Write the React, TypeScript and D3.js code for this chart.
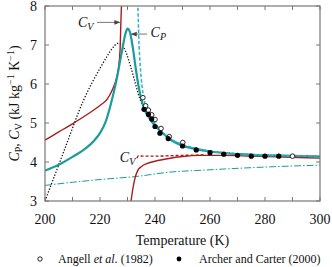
import React from "react";
import * as d3 from "d3";

// ---- data (temperature K, heat capacity kJ/kg/K) ----
const cpModel: [number, number][] = [
  [200, 3.78], [205, 3.93], [210, 4.13], [215, 4.36], [218, 4.56], [220, 4.74],
  [222, 5.02], [224, 5.5], [226, 6.1], [228, 6.85], [229.3, 7.3], [230, 7.42],
  [230.8, 7.35], [232, 6.9], [233, 6.4], [234, 5.95], [235, 5.62], [236, 5.38],
  [238, 5.12], [240, 4.93], [242, 4.8], [245, 4.6], [250, 4.42], [255, 4.33],
  [260, 4.27], [265, 4.23], [270, 4.2], [280, 4.17], [290, 4.16], [300, 4.14],
];
const cvLeft: [number, number][] = [
  [200, 4.56], [205, 4.77], [210, 4.98], [216, 5.25], [220, 5.45], [222.5, 5.6],
  [224.5, 5.85], [225.8, 6.1], [226.7, 6.4], [227.3, 6.87], [227.6, 7.6], [227.9, 8.2],
];
const cvRight: [number, number][] = [
  [231.1, 2.9], [231.8, 3.25], [232.7, 3.58], [233.7, 3.78], [235, 3.88], [237, 3.96],
  [240, 4.02], [245, 4.09], [250, 4.14], [256, 4.17], [265, 4.17], [275, 4.15],
  [290, 4.12], [300, 4.1],
];
const cvDashed: [number, number][] = [
  [233.4, 4.1], [234, 4.16], [236, 4.15], [240, 4.15], [245, 4.16], [250, 4.17], [258, 4.18],
];
const cpDashed: [number, number][] = [
  [233.75, 8.1], [234.1, 7.2], [234.6, 6.5], [235.2, 6.0], [236, 5.62], [237.5, 5.3],
  [240, 5.0], [245, 4.63], [250, 4.45], [255, 4.35], [260, 4.28], [270, 4.21],
  [280, 4.18], [290, 4.16], [300, 4.15],
];
const dotted: [number, number][] = [
  [200, 3.0], [207, 4.3], [214, 5.58], [217, 6.02], [220, 6.4], [223, 6.76],
  [225, 6.96], [226.3, 7.04], [227.6, 7.02], [229.1, 6.87], [231.5, 6.36], [234.5, 5.62],
  [237, 5.25], [240, 4.97], [245, 4.62], [250, 4.44], [255, 4.34], [260, 4.28],
  [270, 4.21], [280, 4.18], [290, 4.16], [300, 4.15],
];
const dashDot: [number, number][] = [
  [200, 3.4], [210, 3.48], [220, 3.55], [234.5, 3.64], [244, 3.73], [260, 3.8],
  [280, 3.87], [300, 3.92],
];

const angellT = [235.6, 236.6, 237.6, 238.8, 240, 242.2, 245.2, 250.1, 290];
const angellC = [5.65, 5.44, 5.33, 5.21, 5.09, 4.86, 4.65, 4.5, 4.15];
const archerT = [236, 237.6, 238.8, 240, 241.8, 244.8, 250, 255, 260, 265, 270, 275, 280, 285];
const archerC = [5.35, 5.22, 5.1, 4.91, 4.74, 4.6, 4.41, 4.31, 4.24, 4.2, 4.17, 4.15, 4.15, 4.15];

const xMajor = [200, 220, 240, 260, 280, 300];
const xMinor = [200, 210, 220, 230, 240, 250, 260, 270, 280, 290, 300];
const yTicks = [3, 4, 5, 6, 7, 8];

const W = 332;
const H = 267;
const m = { left: 45, right: 12, top: 6, bottom: 66 };
const FONT = "Liberation Serif";
const TEAL = "#1a9c9c";
const CYAN = "#2ab4c4";
const RED = "#a81c1c";
const GRAY = "#777";

export default function App() {
  const x = d3.scaleLinear().domain([200, 300]).range([m.left, W - m.right]);
  const y = d3.scaleLinear().domain([3, 8]).range([H - m.bottom, m.top]);
  const line = d3
    .line<[number, number]>()
    .x(d => x(d[0]))
    .y(d => y(d[1]))
    .curve(d3.curveMonotoneX);

  const x0 = x(200), x1 = x(300), y0 = y(3), y1 = y(8);
  const tick = 4;

  return (
    <svg width={W} height={H} style={{ position: "absolute", left: 0, top: 0 }}>
      <defs>
        <clipPath id="plot">
          <rect x={x0} y={y1} width={x1 - x0} height={y0 - y1} />
        </clipPath>
        <marker id="arr" viewBox="0 0 10 10" refX="9" refY="5" markerWidth="6" markerHeight="6" orient="auto">
          <path d="M0,1 L10,5 L0,9 z" fill="#444" />
        </marker>
      </defs>

      {/* curves */}
      <g clipPath="url(#plot)" fill="none">
        <path d={line(dashDot)!} stroke={TEAL} strokeWidth={1} strokeDasharray="7 2 1.5 2" />
        <path d={line(dotted)!} stroke="#111" strokeWidth={1.3} strokeDasharray="1.3 1.7" />
        <path d={line(cvLeft)!} stroke={RED} strokeWidth={1.4} />
        <path d={line(cvRight)!} stroke={RED} strokeWidth={1.4} />
        <path d={line(cvDashed)!} stroke={RED} strokeWidth={1.4} strokeDasharray="3 2" />
        <path d={line(cpModel)!} stroke={TEAL} strokeWidth={2.2} />
        <path d={line(cpDashed)!} stroke={CYAN} strokeWidth={1.5} strokeDasharray="3.5 2" />
      </g>

      {/* measurements */}
      {angellT.map((t, i) => (
        <circle key={"a" + i} cx={x(t)} cy={y(angellC[i])} r={2.3} fill="#fff" stroke="#111" strokeWidth={0.9} />
      ))}
      {archerT.map((t, i) => (
        <circle key={"b" + i} cx={x(t)} cy={y(archerC[i])} r={2.6} fill="#000" />
      ))}

      {/* frame and ticks */}
      <rect x={x0} y={y1} width={x1 - x0} height={y0 - y1} fill="none" stroke={GRAY} strokeWidth={1.2} />
      {xMinor.map(t => (
        <g key={"xt" + t} stroke={GRAY} strokeWidth={1}>
          <line x1={x(t)} x2={x(t)} y1={y0} y2={y0 - tick} />
          <line x1={x(t)} x2={x(t)} y1={y1} y2={y1 + tick} />
        </g>
      ))}
      {yTicks.map(v => (
        <g key={"yt" + v} stroke={GRAY} strokeWidth={1}>
          <line x1={x0} x2={x0 + tick} y1={y(v)} y2={y(v)} />
          <line x1={x1} x2={x1 - tick} y1={y(v)} y2={y(v)} />
        </g>
      ))}

      {xMajor.map(t => (
        <text key={"xl" + t} x={x(t)} y={y0 + 23} fontSize={14} fontFamily={FONT} textAnchor="middle" fill="#111">
          {t}
        </text>
      ))}
      {yTicks.map(v => (
        <text key={"yl" + v} x={x0 - 8} y={y(v) + 4.5} fontSize={14} fontFamily={FONT} textAnchor="end" fill="#111">
          {v}
        </text>
      ))}

      {/* axis titles */}
      <text x={(x0 + x1) / 2} y={y0 + 44} fontSize={14} fontFamily={FONT} textAnchor="middle" fill="#111">
        Temperature (K)
      </text>
      <text
        transform={`translate(19,${(y0 + y1) / 2}) rotate(-90)`}
        fontSize={14}
        fontFamily={FONT}
        textAnchor="middle"
        fill="#111"
      >
        <tspan fontStyle="italic">C</tspan>
        <tspan fontSize={10} dy={3}>P</tspan>
        <tspan dy={-3}>, </tspan>
        <tspan fontStyle="italic">C</tspan>
        <tspan fontSize={10} dy={3}>V</tspan>
        <tspan dy={-3}> (kJ kg</tspan>
        <tspan fontSize={10} dy={-5}>−1</tspan>
        <tspan dy={5}> K</tspan>
        <tspan fontSize={10} dy={-5}>−1</tspan>
        <tspan dy={5}>)</tspan>
      </text>

      {/* annotations */}
      <text x={x(212)} y={y(7.46)} fontSize={14} fontFamily={FONT} fill="#111">
        <tspan fontStyle="italic">C</tspan>
        <tspan fontSize={10} fontStyle="italic" dy={3}>V</tspan>
      </text>
      <line x1={x(218.9)} x2={x(227.2)} y1={y(7.58)} y2={y(7.58)} stroke={GRAY} strokeWidth={1} markerEnd="url(#arr)" />
      <line x1={x(237.1)} x2={x(231.4)} y1={y(7.28)} y2={y(7.28)} stroke={GRAY} strokeWidth={1} markerEnd="url(#arr)" />
      <text x={x(238.4)} y={y(7.2)} fontSize={14} fontFamily={FONT} fill="#111">
        <tspan fontStyle="italic">C</tspan>
        <tspan fontSize={10} fontStyle="italic" dy={3}>P</tspan>
      </text>
      <text x={x(227.2)} y={y(4.0)} fontSize={14} fontFamily={FONT} fill="#111">
        <tspan fontStyle="italic">C</tspan>
        <tspan fontSize={10} fontStyle="italic" dy={3}>V</tspan>
      </text>

      {/* legend */}
      <circle cx={40} cy={H - 8} r={2.2} fill="#fff" stroke="#111" strokeWidth={0.9} />
      <text x={58} y={H - 4} fontSize={12} fontFamily={FONT} fill="#111">
        Angell <tspan fontStyle="italic">et al.</tspan> (1982)
      </text>
      <circle cx={179} cy={H - 8} r={2.4} fill="#000" />
      <text x={199} y={H - 4} fontSize={12} fontFamily={FONT} fill="#111">
        Archer and Carter (2000)
      </text>
    </svg>
  );
}
